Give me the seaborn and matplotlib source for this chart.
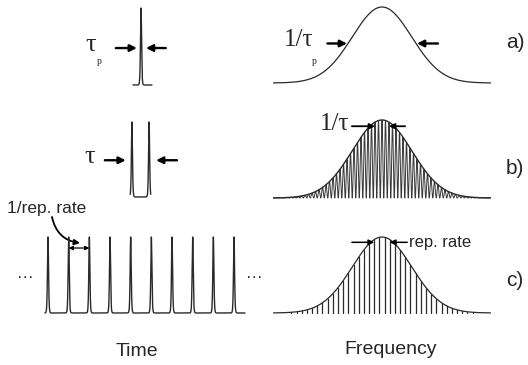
import numpy as np
import pandas as pd
import matplotlib
matplotlib.use("Agg")
import matplotlib.pyplot as plt
import seaborn as sns

sns.set_theme(style="white")
plt.rcParams["font.family"] = ["Liberation Sans", "DejaVu Sans"]

W, H = 528, 365

# ---- time domain (unit: repetition period) ----
single_pulse_t = [4.5]                       # a) one pulse
double_pulse_t = [4.06, 4.89]                # b) pulse pair, separation tau
train_pulse_t = [0, 1, 2, 3, 4, 5, 6, 7, 8, 9]   # c) pulse train
pulse_fwhm = 0.06                            # tau_p
time_spans = {"a": (4.11, 5.03), "b": (3.98, 4.97), "c": (-0.15, 9.53)}

# ---- frequency domain (unit: spectral width 1/tau_p) ----
spectrum_fwhm = 1.0
fringe_period = 0.05      # 1/tau
comb_spacing = 0.074      # rep. rate
freq_span = (-1.55, 1.55)

LINE = "#2a2a2a"
SERIF = ["Liberation Serif", "DejaVu Serif"]
SANS = ["Liberation Sans", "DejaVu Sans"]


def sech2(t, centers, fwhm):
    out = np.zeros_like(t)
    for c in centers:
        out += 1.0 / np.cosh(1.7627 * (t - c) / fwhm) ** 2
    return out


def gauss(f, fwhm):
    return np.exp(-4 * np.log(2) * (f / fwhm) ** 2)


fig = plt.figure(figsize=(W / 100, H / 100), dpi=100)
fig.patch.set_facecolor("white")

# overlay in pixel units for labels
ov = fig.add_axes([0, 0, 1, 1])
ov.set_xlim(0, W)
ov.set_ylim(H, 0)
ov.set_axis_off()


def panel(px0, px1, top, base, origin, scale):
    ax = fig.add_axes([px0 / W, (H - base) / H, (px1 - px0) / W, (base - top) / H])
    ax.set_xlim((px0 - origin) / scale, (px1 - origin) / scale)
    ax.set_ylim(0, 1)
    ax.set_axis_off()
    ax.patch.set_alpha(0)
    return ax


def arrow(ax, tail, tip, lw=1.7, ms=10, style="-|>"):
    ax.annotate("", xy=tip, xytext=tail, annotation_clip=False,
                arrowprops=dict(arrowstyle=style, lw=lw, color="black",
                                mutation_scale=ms, shrinkA=0, shrinkB=0))


def draw_line(ax, x, y, lw=0.9, color=LINE):
    sns.lineplot(x=x, y=y, ax=ax, color=color, lw=lw, estimator=None,
                 errorbar=None, sort=False)
    for ln in ax.lines:
        ln.set_clip_on(False)


# ---------------- time panels ----------------
T_ORIGIN, T_SCALE = 48, 20.67
ta = panel(20, 262, 8, 85, T_ORIGIN, T_SCALE)
tb = panel(20, 262, 122, 197, T_ORIGIN, T_SCALE)
tc = panel(20, 262, 237, 313, T_ORIGIN, T_SCALE)

for ax, key, centers in [(ta, "a", single_pulse_t), (tb, "b", double_pulse_t),
                         (tc, "c", train_pulse_t)]:
    t0, t1 = time_spans[key]
    t = np.linspace(t0, t1, 30000)
    draw_line(ax, t, sech2(t, centers, pulse_fwhm), lw=1.0)

# tau_p arrows
p = single_pulse_t[0]
arrow(ta, (p - 1.22, 0.48), (p - 0.2, 0.48))
arrow(ta, (p + 1.2, 0.48), (p + 0.24, 0.48))
# tau arrows
arrow(tb, (double_pulse_t[0] - 1.31, 0.49), (double_pulse_t[0] - 0.3, 0.49))
arrow(tb, (double_pulse_t[1] + 1.35, 0.49), (double_pulse_t[1] + 0.34, 0.49))
# 1/rep. rate marker
arrow(tc, (train_pulse_t[1], 0.855), (train_pulse_t[2], 0.855),
      lw=0.9, ms=6, style="<|-|>")
ov.annotate("", xy=(80, 243), xytext=(52, 217), annotation_clip=False,
            arrowprops=dict(arrowstyle="-|>", lw=1.3, color="black",
                            mutation_scale=8, shrinkA=0, shrinkB=0,
                            connectionstyle="arc3,rad=0.35"))

# ---------------- frequency panels ----------------
F_ORIGIN, F_SCALE = 382, 70.0
fa = panel(270, 495, 7, 83, F_ORIGIN, F_SCALE)
fb = panel(270, 495, 120, 198, F_ORIGIN, F_SCALE)
fc = panel(270, 495, 237, 313, F_ORIGIN, F_SCALE)

f = np.linspace(freq_span[0], freq_span[1], 40000)
env = gauss(f, spectrum_fwhm)

draw_line(fa, f, env, lw=0.9)

fringes = env * np.cos(np.pi * f / fringe_period) ** 2
draw_line(fb, f, fringes, lw=0.7, color="#3a3a3a")
draw_line(fb, f, env, lw=1.0)

n_max = int(freq_span[1] / comb_spacing)
comb_f = (np.arange(-n_max, n_max) + 0.5) * comb_spacing
comb = pd.DataFrame({
    "f": np.repeat(comb_f, 2),
    "amp": np.ravel(np.column_stack([np.zeros_like(comb_f), gauss(comb_f, spectrum_fwhm)])),
    "line": np.repeat(np.arange(len(comb_f)), 2),
})
sns.lineplot(data=comb, x="f", y="amp", units="line", estimator=None, sort=False,
             ax=fc, color=LINE, lw=0.9, errorbar=None)
draw_line(fc, f, env, lw=0.9)

# 1/tau_p arrows at half maximum
half = spectrum_fwhm / 2
arrow(fa, (-half - 0.28, 0.52), (-half, 0.52))
arrow(fa, (half + 0.3, 0.52), (half, 0.52))
# 1/tau arrows
arrow(fb, (-0.43, 0.92), (-2 * fringe_period, 0.92), lw=1.3, ms=8)
arrow(fb, (0.33, 0.92), (2 * fringe_period, 0.92), lw=1.3, ms=8)
# rep. rate arrows
arrow(fc, (-0.43, 0.93), (-1.5 * comb_spacing, 0.93), lw=1.1, ms=8)
arrow(fc, (0.36, 0.93), (1.5 * comb_spacing, 0.93), lw=1.1, ms=8)

# ---------------- labels ----------------
ov.text(91, 45, "τ", family=SERIF, fontsize=19, ha="center", va="center")
ov.text(99, 61, "p", family=SERIF, fontsize=7, ha="center", va="center")
ov.text(90, 157, "τ", family=SERIF, fontsize=19, ha="center", va="center")

ov.text(313, 40, "1/τ", family=SERIF, fontsize=18, ha="right", va="center")
ov.text(314, 61, "p", family=SERIF, fontsize=7, ha="center", va="center")
ov.text(349, 124, "1/τ", family=SERIF, fontsize=18, ha="right", va="center")

ov.text(409, 242, "rep. rate", family=SANS, fontsize=12, ha="left", va="center")
ov.text(47, 208, "1/rep. rate", family=SANS, fontsize=12.5, ha="center", va="center")
ov.text(25, 278, "···", family=SANS, fontsize=12, ha="center", va="center")
ov.text(254, 278, "···", family=SANS, fontsize=12, ha="center", va="center")

ov.text(137, 352, "Time", family=SANS, fontsize=14, ha="center", va="center")
ov.text(391, 350, "Frequency", family=SANS, fontsize=14, ha="center", va="center")

for lab, y in [("a)", 43), ("b)", 168), ("c)", 281)]:
    ov.text(506, y, lab, family=SANS, fontsize=15, ha="left", va="center")

fig.savefig("out.png", dpi=100, facecolor="white")
